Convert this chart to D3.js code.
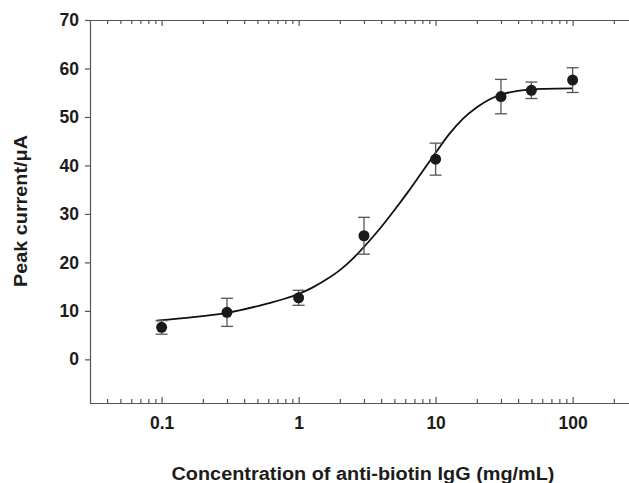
<!DOCTYPE html>
<html>
<head>
<meta charset="utf-8">
<script src="https://d3js.org/d3.v7.min.js"></script>
<style>
  body { margin: 0; background: #fff; }
  #chart text { font-family: "Liberation Sans", Arial, Helvetica, sans-serif; font-weight: bold; fill: #1c1c1c; }
</style>
</head>
<body>
<div id="chart"></div>
<script>
// ==============================
// Data
// ==============================
var concentration = [0.1, 0.3, 1, 3, 10, 30, 50, 100];
var peakCurrent = [6.6, 9.7, 12.7, 25.5, 41.3, 54.2, 55.5, 57.6];
var errorSize = [1.4, 2.9, 1.55, 3.8, 3.3, 3.55, 1.7, 2.55];

// fitted sigmoid, points
var fitConc = [0.092, 0.17, 0.3, 0.52, 0.63, 0.79, 1, 1.26, 1.58, 2, 2.51, 3.16, 3.98, 5.01,
               6.31, 7.94, 10, 12.6, 15.8, 20, 25.1, 31.6, 39.8, 50.1, 63.1, 100];
var fitCurrent = [8.0, 8.7, 9.6, 11.1, 11.7, 12.5, 13.5, 14.8, 16.4, 18.4, 20.9, 23.9, 27.2, 30.8,
                  34.6, 38.6, 42.6, 46.5, 49.6, 52.0, 53.7, 54.8, 55.4, 55.7, 55.8, 55.9];

var yTicks = [0, 10, 20, 30, 40, 50, 60, 70];
var xMajorTicks = [0.1, 1, 10, 100];
var xMinorTicks = [0.04, 0.05, 0.06, 0.07, 0.08, 0.09, 0.2, 0.3, 0.4, 0.5, 0.6, 0.7, 0.8, 0.9,
                   2, 3, 4, 5, 6, 7, 8, 9, 20, 30, 40, 50, 60, 70, 80, 90, 200];

// ==============================
// Chart params
// ==============================
var svgWidth = 629;
var svgHeight = 483;
var chartMargin = { top: 20, right: 0, bottom: 80, left: 90 };
var chartWidth = svgWidth - chartMargin.left - chartMargin.right;
var chartHeight = svgHeight - chartMargin.top - chartMargin.bottom;
var axisColor = "#555";

var svg = d3.select("#chart")
    .append("svg")
    .attr("width", svgWidth)
    .attr("height", svgHeight);

var chartGroup = svg.append("g")
    .attr("transform", `translate(${chartMargin.left}, ${chartMargin.top})`);

// scales
var xScale = d3.scaleLog()
    .domain([0.03, 258])
    .range([0, chartWidth]);

var yScale = d3.scaleLinear()
    .domain([-9, 70])
    .range([chartHeight, 0]);

// ==============================
// Axes
// ==============================
// bottom: ticks pointing inward (up)
var bottomMajor = d3.axisBottom(xScale)
    .tickValues(xMajorTicks)
    .tickFormat(d3.format("~g"))
    .tickSizeInner(-6)
    .tickSizeOuter(0)
    .tickPadding(14);

var bottomMinor = d3.axisBottom(xScale)
    .tickValues(xMinorTicks)
    .tickFormat("")
    .tickSizeInner(-4)
    .tickSizeOuter(0);

chartGroup.append("g")
    .attr("transform", `translate(0, ${chartHeight})`)
    .call(bottomMinor);

chartGroup.append("g")
    .attr("class", "xLabels")
    .attr("transform", `translate(0, ${chartHeight})`)
    .call(bottomMajor);

// top mirror axis: ticks pointing inward (down), no labels
chartGroup.append("g")
    .call(d3.axisBottom(xScale).tickValues(xMinorTicks).tickFormat("").tickSizeInner(4).tickSizeOuter(0));

chartGroup.append("g")
    .call(d3.axisBottom(xScale).tickValues(xMajorTicks).tickFormat("").tickSizeInner(6).tickSizeOuter(0));

// left axis
var leftAxis = d3.axisLeft(yScale)
    .tickValues(yTicks)
    .tickSizeInner(5)
    .tickSizeOuter(0)
    .tickPadding(6);

chartGroup.append("g")
    .attr("class", "yLabels")
    .call(leftAxis);

chartGroup.selectAll(".domain, .tick line")
    .attr("stroke", axisColor)
    .attr("stroke-width", 1.2);

chartGroup.selectAll(".xLabels text, .yLabels text")
    .attr("font-size", 17.5)
    .attr("fill", "#1c1c1c");

// ==============================
// Fitted curve
// ==============================
var fitLine = d3.line()
    .x(d => xScale(d[0]))
    .y(d => yScale(d[1]))
    .curve(d3.curveMonotoneX);

chartGroup.append("path")
    .datum(fitConc.map((c, i) => [c, fitCurrent[i]]))
    .attr("d", fitLine)
    .attr("fill", "none")
    .attr("stroke", "#111")
    .attr("stroke-width", 1.8);

// ==============================
// Error bars & points
// ==============================
var points = concentration.map((c, i) => ({ x: c, y: peakCurrent[i], err: errorSize[i] }));
var capHalf = 6;

var errGroup = chartGroup.append("g")
    .attr("stroke", "#555")
    .attr("stroke-width", 1.3);

errGroup.selectAll(".stem")
    .data(points)
    .enter()
    .append("line")
    .attr("x1", d => xScale(d.x))
    .attr("x2", d => xScale(d.x))
    .attr("y1", d => yScale(d.y - d.err))
    .attr("y2", d => yScale(d.y + d.err));

errGroup.selectAll(".capTop")
    .data(points)
    .enter()
    .append("line")
    .attr("x1", d => xScale(d.x) - capHalf)
    .attr("x2", d => xScale(d.x) + capHalf)
    .attr("y1", d => yScale(d.y + d.err))
    .attr("y2", d => yScale(d.y + d.err));

errGroup.selectAll(".capBottom")
    .data(points)
    .enter()
    .append("line")
    .attr("x1", d => xScale(d.x) - capHalf)
    .attr("x2", d => xScale(d.x) + capHalf)
    .attr("y1", d => yScale(d.y - d.err))
    .attr("y2", d => yScale(d.y - d.err));

chartGroup.append("g").selectAll("circle")
    .data(points)
    .enter()
    .append("circle")
    .attr("cx", d => xScale(d.x))
    .attr("cy", d => yScale(d.y))
    .attr("r", 5.5)
    .attr("fill", "#1a1a1a");

// ==============================
// Axis titles
// ==============================
svg.append("text")
    .attr("x", 363)
    .attr("y", 480)
    .attr("text-anchor", "middle")
    .attr("font-size", 18)
    .attr("textLength", 383)
    .attr("lengthAdjust", "spacingAndGlyphs")
    .text("Concentration of anti-biotin IgG (mg/mL)");

svg.append("text")
    .attr("transform", "translate(27, 211) rotate(-90)")
    .attr("text-anchor", "middle")
    .attr("font-size", 18)
    .attr("textLength", 152)
    .attr("lengthAdjust", "spacingAndGlyphs")
    .text("Peak current/\u03bcA");
</script>
</body>
</html>
